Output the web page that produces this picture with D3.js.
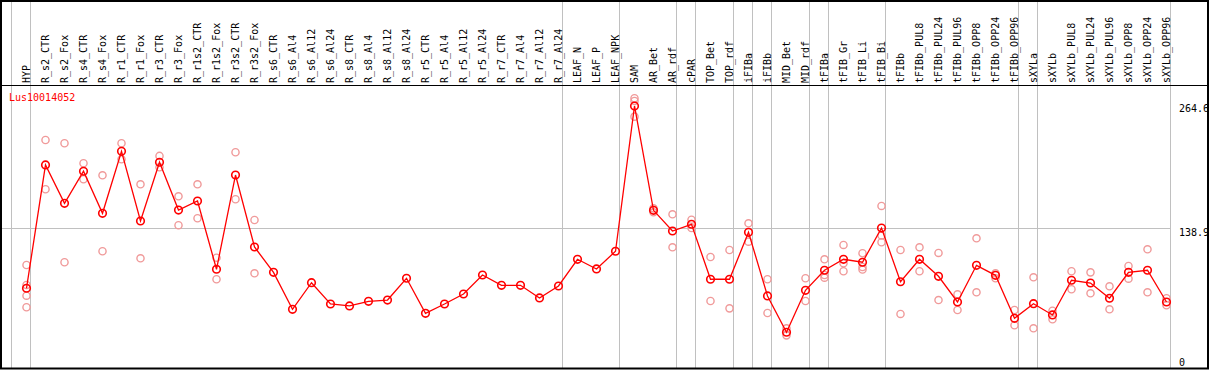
<!DOCTYPE html>
<html>
<head>
<meta charset="utf-8">
<script src="https://cdn.jsdelivr.net/npm/d3@7"></script>
<style>
  html, body { margin: 0; padding: 0; background: #fff; }
  svg { display: block; }
  text { font-family: "DejaVu Sans Mono", "Liberation Mono", monospace; font-size: 10px; }
</style>
</head>
<body>
<svg id="chart" width="1209" height="370"></svg>
<script>
const geneId = "Lus10014052";

const categories = ["HYP","R_s2_CTR","R_s2_Fox","R_s4_CTR","R_s4_Fox","R_r1_CTR","R_r1_Fox","R_r3_CTR","R_r3_Fox",
  "R_r1s2_CTR","R_r1s2_Fox","R_r3s2_CTR","R_r3s2_Fox","R_s6_CTR","R_s6_Al4","R_s6_Al12","R_s6_Al24",
  "R_s8_CTR","R_s8_Al4","R_s8_Al12","R_s8_Al24","R_r5_CTR","R_r5_Al4","R_r5_Al12","R_r5_Al24",
  "R_r7_CTR","R_r7_Al4","R_r7_Al12","R_r7_Al24","LEAF_N","LEAF_P","LEAF_NPK","SAM","AR_Bet","AR_rdf",
  "cPAR","TOP_Bet","TOP_rdf","iFIBa","iFIBb","MID_Bet","MID_rdf","tFIBa","tFIB_Gr","tFIB_Li","tFIB_Bi",
  "tFIBb","tFIBb_PUL8","tFIBb_PUL24","tFIBb_PUL96","tFIBb_OPP8","tFIBb_OPP24","tFIBb_OPP96",
  "sXYLa","sXYLb","sXYLb_PUL8","sXYLb_PUL24","sXYLb_PUL96","sXYLb_OPP8","sXYLb_OPP24","sXYLb_OPP96"];

const means = [78.3,203.0,164.2,196.6,154.1,216.8,146.3,205.7,157.4,
  166.5,97.5,192.8,120.0,94.4,57.0,83.9,62.4,
  60.4,65.1,66.4,88.4,53.0,62.4,72.5,91.7,
  81.3,81.3,68.5,80.6,107.6,97.8,115.7,262.6,157.1,136.2,
  143.0,87.4,87.4,134.9,70.5,33.8,76.2,96.5,107.6,104.6,139.2,
  84.9,107.6,90.4,64.4,101.5,91.4,47.9,
  62.7,51.3,86.4,83.6,68.2,94.4,96.5,64.4];

const replicates = [
  [101.8,81.6,70.8,59.1],[228.2,178.4],[224.9,104.6],[204.7,188.5],[192.5,115.7],[224.9,208.7],[183.4,108.6],[212.1,200.6],[171.3,142.0],
  [183.4,149.1],[109.2,87.4],[215.8,168.3],[147.3,93.4],[],[],[],[],
  [],[],[],[],[],[],[],[],
  [],[],[],[],[],[],[],[270.4,267.7,251.8],[159.1,155.1],[153.1,119.7],
  [147.6,139.2],[109.9,65.4],[117.0,58.0],[144.0,125.4],[87.4,53.3],[37.8,30.7],[88.4,65.4],[107.6,91.7,89.0],[122.1,103.5,95.5],[113.7,99.8,97.2],[161.5,131.7,124.8],
  [117.0,52.3],[119.7,95.5],[114.0,66.4],[72.2,56.3],[128.8,74.2],[93.4,88.4],[56.3,40.9],
  [89.4,37.8],[55.6,46.9],[95.5,77.3],[94.4,73.2],[80.3,57.0],[100.8,88.0],[117.7,74.2],[68.2,61.1]];

const groupStarts = ["HYP","R_s2_CTR","LEAF_N","SAM","cPAR","TOP_Bet","iFIBa","iFIBb","MID_Bet","tFIBa","tFIB_Gr","tFIBb","sXYLa","sXYLb"];
const yTickValues = [0, 138.9, 264.6];
const gridValues = [138.9];

const W = 1209, H = 370;
const headerY = 85.5, bottomY = 369;
const svg = d3.select("#chart");

const x = d3.scaleBand().domain(categories).range([11, 11 + 19 * categories.length]).padding(0);
const px = c => x(c) + x.bandwidth() * 0.816;
const y = d3.scaleLinear().domain([0, 264.6]).range([365.7, 104]);

// vertical group separators
const sepX = groupStarts.map(c => Math.round(x(c)) + 0.5).concat([Math.round(x.range()[1]) + 0.5]);
svg.append("g").selectAll("line").data(sepX).join("line")
  .attr("x1", d => d).attr("x2", d => d).attr("y1", 0).attr("y2", bottomY)
  .attr("stroke", "#c0c0c0").attr("stroke-width", 1);

// horizontal grid
svg.append("g").selectAll("line").data(gridValues).join("line")
  .attr("x1", 2).attr("x2", x.range()[1] + 0.5)
  .attr("y1", d => Math.round(y(d)) + 0.5).attr("y2", d => Math.round(y(d)) + 0.5)
  .attr("stroke", "#c0c0c0").attr("stroke-width", 1);

// header separator
svg.append("line").attr("x1", 0).attr("x2", W).attr("y1", headerY).attr("y2", headerY)
  .attr("stroke", "#000").attr("stroke-width", 1);

// category labels (rotated)
svg.append("g").selectAll("text").data(categories).join("text")
  .attr("transform", c => `translate(${px(c) + 3.5},83) rotate(-90)`)
  .attr("text-anchor", "start")
  .attr("fill", "#000")
  .text(c => c);

// right axis labels
svg.append("g").selectAll("text").data(yTickValues).join("text")
  .attr("x", 1179)
  .attr("y", d => Math.min(y(d) + 8, 366))
  .attr("fill", "#000")
  .text(d => d === 0 ? "0" : d.toFixed(1));

// gene id
svg.append("text").attr("x", 9).attr("y", 100.5).attr("fill", "#ff0000").text(geneId);

// replicates
const repData = [];
categories.forEach((c, i) => replicates[i].forEach(v => repData.push({c, v})));
svg.append("g").selectAll("circle").data(repData).join("circle")
  .attr("cx", d => px(d.c)).attr("cy", d => y(d.v)).attr("r", 3.6)
  .attr("fill", "none").attr("stroke", "#f09a9a").attr("stroke-width", 1.4);

// mean line
const line = d3.line().x((d, i) => px(categories[i])).y(d => y(d));
svg.append("path").datum(means).attr("d", line)
  .attr("fill", "none").attr("stroke", "#ff0000").attr("stroke-width", 1.3);

// mean markers
svg.append("g").selectAll("circle").data(means).join("circle")
  .attr("cx", (d, i) => px(categories[i])).attr("cy", d => y(d)).attr("r", 3.8)
  .attr("fill", "none").attr("stroke", "#ff0000").attr("stroke-width", 1.6);

// frame
svg.append("rect").attr("x", 1).attr("y", 1).attr("width", 1207).attr("height", 367.5)
  .attr("fill", "none").attr("stroke", "#000").attr("stroke-width", 2);
</script>
</body>
</html>
